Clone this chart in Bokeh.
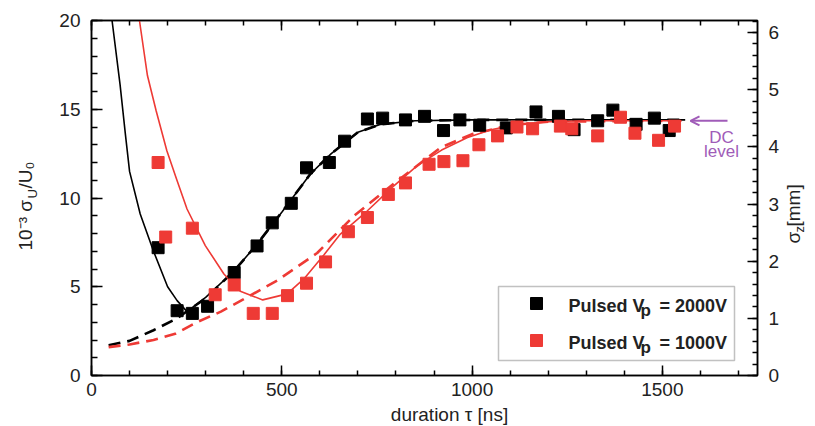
import math
from bokeh.plotting import figure
from bokeh.models import (Range1d, LinearAxis, FixedTicker, Label, Arrow, OpenHead,
                          CustomJSTickFormatter, BoxAnnotation)
from bokeh.embed import file_html
from bokeh.resources import INLINE

# ---------------- data ----------------
black_x = [175, 225, 265, 305, 375, 435, 475, 525, 565, 625, 665, 725, 765, 825, 875, 925,
           968, 1020, 1090, 1168, 1227, 1268, 1330, 1370, 1431, 1479, 1518]
black_y = [7.2, 3.65, 3.5, 3.9, 5.8, 7.3, 8.6, 9.7, 11.7, 12.0, 13.2, 14.45, 14.5, 14.4, 14.6, 13.8,
           14.4, 14.1, 13.95, 14.85, 14.6, 13.85, 14.35, 14.95, 14.15, 14.5, 13.8]

red_x = [175, 195, 265, 325, 375, 425, 475, 515, 565, 615, 675, 725, 780, 825, 887, 926,
         976, 1018, 1067, 1118, 1159, 1232, 1262, 1330, 1390, 1428, 1490, 1532]
red_y = [12.0, 7.8, 8.3, 4.55, 5.1, 3.5, 3.5, 4.5, 5.2, 6.4, 8.1, 8.9, 10.2, 10.85, 11.9, 12.05,
         12.1, 13.0, 13.5, 14.0, 13.9, 14.05, 13.9, 13.5, 14.55, 13.65, 13.25, 14.05]

black_fit_x = [54, 75, 89, 100, 128, 163, 200, 225, 251, 300, 375, 435, 500, 575, 630, 700, 760,
               850, 1000, 1200, 1400, 1560]
black_fit_y = [20.0, 16.4, 13.6, 11.5, 9.1, 7.0, 5.0, 4.22, 3.6, 4.4, 5.9, 7.4, 9.2, 11.35, 12.5,
               13.7, 14.15, 14.35, 14.4, 14.4, 14.4, 14.4]

black_model_x = [45, 100, 163, 223, 300, 375, 435, 500, 575, 630, 700, 760, 850, 1000, 1200, 1400, 1560]
black_model_y = [1.7, 1.95, 2.55, 3.2, 4.35, 5.9, 7.4, 9.2, 11.35, 12.5, 13.7, 14.15, 14.35, 14.4,
                 14.4, 14.4, 14.4]

red_fit_x = [126, 147, 170, 198, 225, 251, 299, 348, 391, 450, 514, 558, 611, 654, 725, 790, 856,
             920, 988, 1050, 1111, 1200, 1300, 1550]
red_fit_y = [20.0, 16.9, 14.9, 12.66, 10.97, 9.38, 7.32, 5.72, 4.75, 4.26, 4.6, 5.44, 6.8, 7.97,
             9.28, 10.6, 11.82, 12.7, 13.41, 13.85, 14.12, 14.3, 14.35, 14.35]

red_model_x = [45, 100, 163, 220, 277, 340, 400, 488, 593, 690, 800, 918, 1000, 1100, 1200, 1550]
red_model_y = [1.6, 1.75, 2.0, 2.35, 3.0, 3.6, 4.3, 5.35, 6.9, 9.0, 10.9, 12.85, 13.6, 14.1, 14.3, 14.35]

dc_level = 14.35

x_ticks = [0, 500, 1000, 1500]
x_minor = list(range(0, 1800, 100))
y_ticks = [0, 5, 10, 15, 20]
y_minor = list(range(0, 21))
mm_ticks = [0, 1, 2, 3, 4, 5, 6]
mm_minor = [round(i * 0.2, 1) for i in range(0, 32)]

legend_labels = [("Pulsed V", "p", "= 2000V"), ("Pulsed V", "p", "= 1000V")]

BLACK = "#000000"
RED = "#ee3a35"
PURPLE = "#a05cb8"
TXT = "#222222"
FONT = "Liberation Sans"

# ---------------- figure ----------------
XMAX, YMAX, MMMAX = 1750, 20, 6.21
FL, FT, FW, FH = 91, 20, 666, 355  # frame position in page px
W, H = 814, 425


def at(sx, sy):
    """page pixel -> data coordinates (for annotations only)"""
    return ((sx - FL) * XMAX / FW, (FT + FH - sy) * YMAX / FH)


p = figure(width=W, height=H, x_range=Range1d(0, XMAX), y_range=Range1d(0, YMAX),
           output_backend="svg", toolbar_location=None,
           min_border_left=FL, min_border_right=W - FL - FW, min_border_top=FT,
           min_border_bottom=H - FT - FH)
p.xgrid.visible = False
p.ygrid.visible = False
p.outline_line_color = "black"
p.outline_line_width = 1.5
p.background_fill_color = "white"
p.border_fill_color = "white"
p.extra_y_ranges = {"mm": Range1d(0, MMMAX)}


def style(ax, major_in, minor_in, standoff):
    ax.axis_line_color = "black"
    ax.axis_line_width = 1.5
    ax.major_tick_in = major_in
    ax.major_tick_out = 0
    ax.minor_tick_in = minor_in
    ax.minor_tick_out = 0
    ax.major_tick_line_width = 1.5
    ax.minor_tick_line_width = 1.5
    ax.major_tick_line_color = "black"
    ax.minor_tick_line_color = "black"
    ax.major_label_text_font = FONT
    ax.major_label_text_font_size = "19px"
    ax.major_label_text_color = TXT
    ax.major_label_standoff = standoff


xa = p.xaxis[0]
xa.ticker = FixedTicker(ticks=x_ticks, minor_ticks=x_minor)
style(xa, 10, 5, 7)

ya = p.yaxis[0]
ya.ticker = FixedTicker(ticks=y_ticks, minor_ticks=y_minor)
style(ya, 11, 6, 11)

ra = LinearAxis(y_range_name="mm", ticker=FixedTicker(ticks=mm_ticks, minor_ticks=mm_minor))
style(ra, 10, 5, 11)
p.add_layout(ra, "right")

ta = LinearAxis(ticker=FixedTicker(ticks=x_ticks, minor_ticks=x_minor),
                formatter=CustomJSTickFormatter(code="return ''"))
style(ta, 10, 5, 0)
ta.major_label_text_font_size = "0px"
p.add_layout(ta, "above")

# ---------------- curves ----------------
p.line(black_model_x, black_model_y, line_color=BLACK, line_width=2.6, line_dash="12 7")
p.line(red_model_x, red_model_y, line_color=RED, line_width=2.6, line_dash="12 7")
p.line(black_fit_x, black_fit_y, line_color=BLACK, line_width=1.6)
p.line(red_fit_x, red_fit_y, line_color=RED, line_width=1.6)

# ---------------- points ----------------
p.scatter(black_x, black_y, marker="square", size=12, fill_color=BLACK, line_color=BLACK)
p.scatter(red_x, red_y, marker="square", size=12, fill_color=RED, line_color=RED)

# ---------------- DC level arrow ----------------
ax0, _ = at(727, 120)
ax1, _ = at(690, 120)
p.add_layout(Arrow(x_start=ax0, y_start=dc_level, x_end=ax1, y_end=dc_level,
                   line_color=PURPLE, line_width=2,
                   end=OpenHead(size=9, line_color=PURPLE, line_width=2)))
for txt, sy in (("DC", 137), ("level", 151)):
    lx, ly = at(721, sy)
    p.add_layout(Label(x=lx, y=ly, text=txt, text_font=FONT, text_font_size="17px",
                       text_color=PURPLE, text_align="center", text_baseline="alphabetic"))

# ---------------- legend (manual) ----------------
bl, bt = at(498, 286)
br, bb = at(734, 360)
p.add_layout(BoxAnnotation(left=bl, right=br, top=bt, bottom=bb, fill_color="white", fill_alpha=1,
                           line_color="#333333", line_width=1.5, level="underlay"))
for (a, sub, b), col, sy in zip(legend_labels, [BLACK, RED], [310, 347]):
    mx, my = at(536, sy - 7)
    p.scatter([mx], [my], marker="square", size=12, fill_color=col, line_color=col)
    for t, sx, dy, fs in ((a, 568, -5, "18px"), (sub, 640, 0, "17px"), (b, 659, -5, "18px")):
        lx, ly = at(sx, sy + dy)
        p.add_layout(Label(x=lx, y=ly, text=t, text_font=FONT, text_font_size=fs,
                           text_font_style="bold", text_color=TXT, text_align="left",
                           text_baseline="alphabetic", level="overlay"))


# ---------------- axis titles (labels placed in the side panels, so they are not clipped) -----
def side_label(place, t, sx, sy, size, angle=math.pi / 2, align="left"):
    lx, ly = at(sx, sy)
    p.add_layout(Label(x=lx, y=ly, text=t, angle=angle, text_font=FONT,
                       text_font_size=size, text_color=TXT, text_align=align,
                       text_baseline="alphabetic"), place)


# left: 10^-3 sigma_U / U_0  (reads bottom -> top)
side_label("left", "10⁻³ σ", 25, 250, "19px")
side_label("above", "U", 32, 198, "13px")
side_label("left", "/U₀", 25, 188, "19px")

# right: sigma_z [mm]
side_label("right", "σ  [mm]", 793, 243, "19px")
side_label("above", "z", 799, 232, "13px")

# bottom: duration tau [ns]
side_label("below", "duration τ [ns]", 449, 414, "19px", angle=0, align="center")

open("out.html", "w").write(file_html(p, INLINE))
